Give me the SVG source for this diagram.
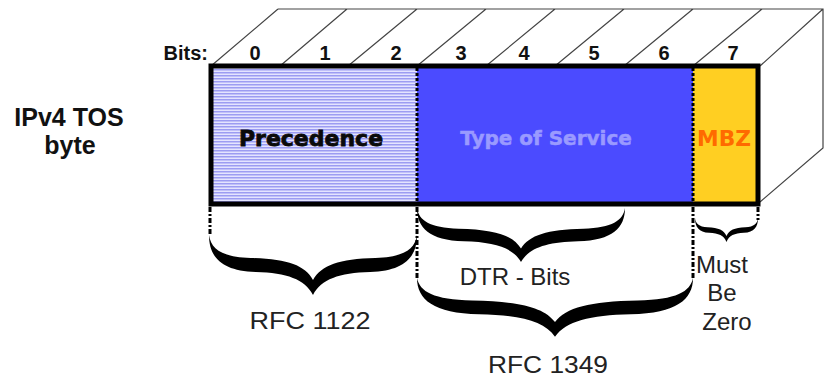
<svg xmlns="http://www.w3.org/2000/svg" xmlns:xlink="http://www.w3.org/1999/xlink" width="840" height="377" viewBox="0 0 840 377">
<style>
.face{fill:none;stroke:#444;stroke-width:1.2}
.bit{font-family:"Liberation Sans",Arial,sans-serif;font-weight:bold;font-size:20px;fill:#111;text-anchor:middle}
.lbl{font-family:"Liberation Sans",Arial,sans-serif;font-size:24px;fill:#222;text-anchor:middle}
.fld{font-family:"DejaVu Sans",Verdana,sans-serif;font-weight:bold;text-anchor:middle}
.div{stroke:#000;stroke-width:3;stroke-dasharray:3 2;fill:none}
.dash{stroke:#000;stroke-width:3;stroke-dasharray:5 2 2 2;fill:none}
.brace{fill:#000}
</style>
<defs>
<pattern id="stripes" width="8" height="3" patternUnits="userSpaceOnUse">
<rect width="8" height="3" fill="#e4e4ff"/>
<rect width="8" height="1.5" fill="#9c9cf2"/>
</pattern>
<path id="brace" d="M0,0 C0,22 12,36 45,37 C75,38 92,44 100,60 C108,44 125,38 155,37 C188,36 200,22 200,0 C198,14 188,22 160,23 C125,24 108,30 100,45 C92,30 75,24 40,23 C12,22 2,14 0,0 Z"/>
</defs>
<rect width="840" height="377" fill="#fff"/>

<g id="box-3d">
<path class="face" d="M278,9 H823 V148 L760,202 M760,66 L823,9 M211,66 L278,9 M280,66 L347,9 M348,66 L417,9 M417,66 L486,9 M486,66 L555,9 M555,66 L624,9 M624,66 L693,9 M693,66 L762,9"/>
</g>

<g id="bits-header">
<text class="bit" x="208" y="60" style="text-anchor:end">Bits:</text>
<text class="bit" x="255" y="60">0</text>
<text class="bit" x="325" y="60">1</text>
<text class="bit" x="396" y="60">2</text>
<text class="bit" x="461" y="60">3</text>
<text class="bit" x="524" y="60">4</text>
<text class="bit" x="594" y="60">5</text>
<text class="bit" x="664" y="60">6</text>
<text class="bit" x="733" y="60">7</text>
</g>

<g id="ipv4-label">
<text class="bit" x="69" y="126" style="font-size:25px">IPv4 TOS</text>
<text class="bit" x="70" y="154" style="font-size:25px">byte</text>
</g>

<g id="field-precedence">
<rect x="211" y="66" width="206" height="138" fill="url(#stripes)"/>
<text class="fld" x="311" y="146" font-size="22" fill="#0a0a0a" stroke="#0a0a0a" stroke-width="0.8">Precedence</text>
</g>

<g id="field-tos">
<rect x="417" y="66" width="276" height="138" fill="#4b4bff"/>
<text class="fld" x="546" y="145" font-size="20" fill="#9a9aff" stroke="#9a9aff" stroke-width="0.5">Type of Service</text>
</g>

<g id="field-mbz">
<rect x="693" y="66" width="65" height="138" fill="#ffcf22"/>
<text class="fld" x="724" y="146" font-size="21" fill="#ff6a00" textLength="54" lengthAdjust="spacingAndGlyphs">MBZ</text>
</g>

<g id="box-frame">
<line class="div" x1="417" y1="68" x2="417" y2="202"/>
<line class="div" x1="693" y1="68" x2="693" y2="202"/>
<rect x="211" y="66" width="547" height="138" fill="none" stroke="#000" stroke-width="5"/>
</g>

<g id="connectors">
<line class="dash" x1="210" y1="207" x2="210" y2="236"/>
<line class="dash" x1="417" y1="207" x2="417" y2="280"/>
<line class="dash" x1="693" y1="207" x2="693" y2="278"/>
<line class="dash" x1="758" y1="207" x2="758" y2="220"/>
<use class="brace" xlink:href="#brace" transform="translate(209,235) scale(1.04,1)"/>
<use class="brace" xlink:href="#brace" transform="translate(417,208) scale(1.04,0.9)"/>
<use class="brace" xlink:href="#brace" transform="translate(417,278) scale(1.38,0.98)"/>
<use class="brace" xlink:href="#brace" transform="translate(695,218) scale(0.315,0.4)"/>
</g>

<g id="labels">
<text class="lbl" x="310" y="329" textLength="121" lengthAdjust="spacingAndGlyphs">RFC 1122</text>
<text class="lbl" x="515" y="285">DTR - Bits</text>
<text class="lbl" x="548" y="373" textLength="120" lengthAdjust="spacingAndGlyphs">RFC 1349</text>
<text class="lbl" x="722" y="273">Must</text>
<text class="lbl" x="722" y="301">Be</text>
<text class="lbl" x="727" y="330">Zero</text>
</g>
</svg>
